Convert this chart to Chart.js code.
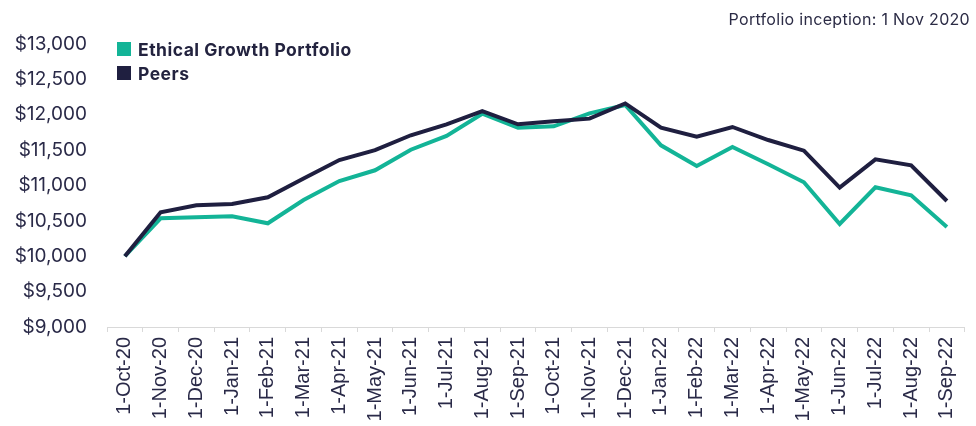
<!DOCTYPE html>
<html>
<head>
<meta charset="utf-8">
<script src="https://cdn.jsdelivr.net/npm/chart.js@4/dist/chart.umd.min.js"></script>
<style>
  html, body { margin: 0; padding: 0; background: #ffffff; }
  #wrap { position: relative; width: 976px; height: 426px; }
  #c { position: absolute; left: 0; top: 0; }
  #note { position: absolute; right: 6px; top: 9px; font-family: Inter, "Noto Sans", sans-serif; font-size: 16px; letter-spacing: 0.3px; color: #2b2b45; white-space: nowrap; }
  #legend { position: absolute; left: 117px; top: 37px; font-family: Inter, "Noto Sans", sans-serif; font-weight: 700; font-size: 17.5px; letter-spacing: 0.5px; color: #23233f; }
  .item { display: flex; align-items: center; height: 24px; }
  .sw { width: 14px; height: 14px; margin-right: 7px; }
</style>
</head>
<body>
<div id="wrap">
  <canvas id="c" width="976" height="426"></canvas>
  <div id="note">Portfolio inception: 1 Nov 2020</div>
  <div id="legend"></div>
</div>
<script>
const categories = ["1-Oct-20","1-Nov-20","1-Dec-20","1-Jan-21","1-Feb-21","1-Mar-21","1-Apr-21","1-May-21","1-Jun-21","1-Jul-21","1-Aug-21","1-Sep-21","1-Oct-21","1-Nov-21","1-Dec-21","1-Jan-22","1-Feb-22","1-Mar-22","1-Apr-22","1-May-22","1-Jun-22","1-Jul-22","1-Aug-22","1-Sep-22"];
const ethicalGrowth = [10000,10536,10550,10565,10466,10795,11063,11215,11506,11700,12015,11817,11836,12020,12138,11568,11276,11544,11300,11045,10456,10975,10861,10413];
const peers = [10000,10621,10720,10740,10833,11100,11360,11500,11710,11865,12050,11865,11907,11945,12160,11817,11690,11827,11643,11492,10970,11370,11285,10781];
const seriesNames = ["Ethical Growth Portfolio","Peers"];
const seriesColors = ["#13b497","#1f1f40"];
const yTicks = [9000,9500,10000,10500,11000,11500,12000,12500,13000];

const ctx = document.getElementById('c');
const chart = new Chart(ctx, {
  type: 'line',
  data: {
    labels: categories,
    datasets: [
      { label: seriesNames[0], data: ethicalGrowth, borderColor: seriesColors[0], backgroundColor: seriesColors[0], borderWidth: 4, pointRadius: 0, tension: 0, order: 2, borderJoinStyle: 'miter' },
      { label: seriesNames[1], data: peers, borderColor: seriesColors[1], backgroundColor: seriesColors[1], borderWidth: 4, pointRadius: 0, tension: 0, order: 1, borderJoinStyle: 'miter' }
    ]
  },
  options: {
    responsive: false,
    animation: false,
    devicePixelRatio: 1,
    layout: { padding: { top: 44, right: 5, left: 0, bottom: 0 } },
    plugins: { legend: { display: false }, tooltip: { enabled: false } },
    scales: {
      x: {
        offset: true,
        grid: { display: true, drawOnChartArea: false, drawTicks: true, tickLength: 5, color: '#d9d9d9', offset: true },
        border: { display: true, color: '#d9d9d9', width: 1 },
        ticks: {
          autoSkip: false, maxRotation: 90, minRotation: 90, padding: 5,
          color: '#2a2a48',
          font: { family: '"Liberation Sans", Arial, sans-serif', size: 20 }
        },
        afterFit: (s) => { s.height = 99; }
      },
      y: {
        min: yTicks[0], max: yTicks[yTicks.length - 1],
        afterBuildTicks: (s) => { s.ticks = yTicks.map(v => ({ value: v })); },
        grid: { display: false },
        border: { display: false },
        ticks: {
          padding: 12,
          color: '#2a2a48',
          font: { family: 'Inter, "Noto Sans", sans-serif', size: 19 },
          callback: (v) => '$' + Number(v).toLocaleString('en-US')
        },
        afterFit: (s) => { s.width = 107; }
      }
    }
  }
});

const leg = document.getElementById('legend');
chart.data.datasets.forEach(ds => {
  const it = document.createElement('div'); it.className = 'item';
  const sw = document.createElement('div'); sw.className = 'sw'; sw.style.background = ds.borderColor;
  const tx = document.createElement('span'); tx.textContent = ds.label;
  it.appendChild(sw); it.appendChild(tx); leg.appendChild(it);
});
</script>
</body>
</html>
